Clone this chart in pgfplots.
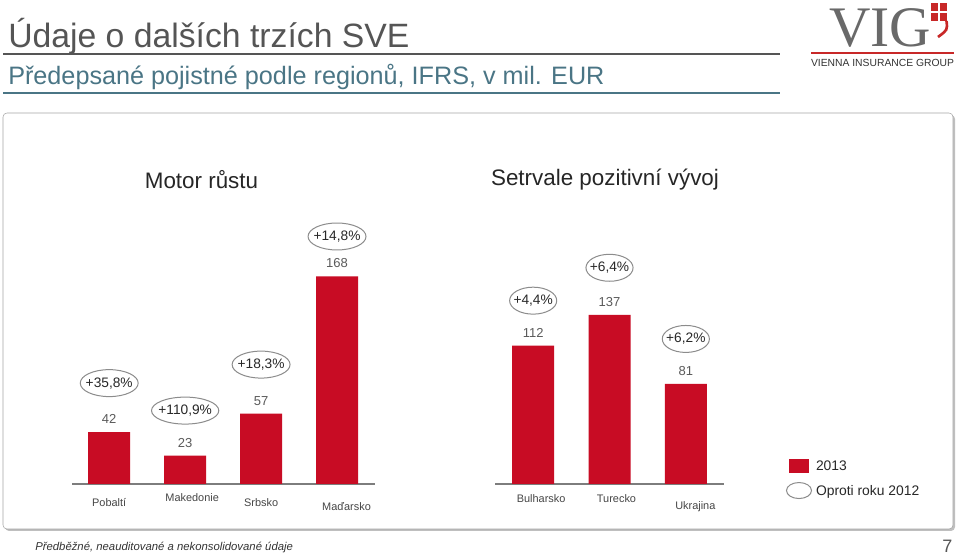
\documentclass[border=0pt]{standalone}
\usepackage{pgfplots}
\pgfplotsset{compat=1.18}
\usepackage{pgfplotstable}
\usepackage{fontspec}
\setmainfont{Liberation Sans}
\newfontfamily\vigfont{Liberation Serif}
\usetikzlibrary{shapes.geometric}

\definecolor{barred}{RGB}{200,12,36}
\definecolor{titlegray}{RGB}{85,85,85}
\definecolor{subblue}{RGB}{74,117,133}
\definecolor{boxgray}{RGB}{165,165,165}
\definecolor{axisgray}{RGB}{125,125,125}
\definecolor{ovalgray}{RGB}{140,140,140}
\definecolor{valgray}{RGB}{90,90,90}
\definecolor{pcttext}{RGB}{40,40,40}
\definecolor{labgray}{RGB}{70,70,70}
\definecolor{viggray}{RGB}{105,105,105}
\definecolor{vigred}{RGB}{200,40,40}

\newcommand{\fs}[1]{\fontsize{#1}{#1}\selectfont}
% tick label: shift right by #1, down by #2
\newcommand{\lab}[3]{\raisebox{-#2}{\hspace*{#1}#3}}

% x, value 2013 (mil. EUR), offset of the oval above the bar (pt), change vs 2012
\pgfplotstableread{
x v dy pct
0 42 36.75 {+35,8\%}
1 23 33.75 {+110,9\%}
2 57 36.75 {+18,3\%}
3 168 30 {+14,8\%}
}\leftdata
\pgfplotstableread{
x v dy pct
0 112 33.75 {+4,4\%}
1 137 35.25 {+6,4\%}
2 81 33.75 {+6,2\%}
}\rightdata

\pgfplotsset{
  /pgf/number format/assume math mode=true,
  regionaxis/.style={
    anchor=south west, scale only axis, height=195pt,
    ymin=0, ymax=210.5,
    axis x line=bottom, axis y line=none,
    axis line style={-, draw=axisgray, line width=1.1pt},
    major tick length=0pt, ytick=\empty,
    xticklabel style={anchor=base, font=\fs{8.2pt}, text=labgray, inner sep=0pt},
    clip=false,
  },
  valbars/.style={ybar, bar width=31.5pt, fill=barred, draw=none,
    nodes near coords,
    every node near coord/.append style={anchor=center, yshift=9.75pt,
      font=\fs{9.75pt}, text=valgray}},
  pctovals/.style={draw=none, mark=none,
    point meta=explicit symbolic, nodes near coords,
    visualization depends on={\thisrow{dy}\as\ovaldy},
    every node near coord/.append style={anchor=center, yshift=\ovaldy,
      ellipse, draw=ovalgray, line width=0.75pt, inner xsep=-2.25pt, inner ysep=2.65pt,
      text height=7.5pt, text depth=1.5pt, font=\fs{10.3pt}, text=pcttext}},
}

\begin{document}
\begin{tikzpicture}[x=0.75pt, y=0.75pt]
\path[use as bounding box] (0,0) rectangle (959,556);

% header
\node[anchor=base west, inner sep=0, font=\fs{25.3pt}, text=titlegray] at (8,508) {Údaje o dalších trzích SVE};
\draw[titlegray, line width=1.9pt] (3,502) -- (780,502);
\node[anchor=base west, inner sep=0, font=\fs{18.9pt}, text=subblue] at (8,471) {Předepsané pojistné podle regionů, IFRS, v mil. EUR};
\draw[subblue, line width=1.1pt] (3,463) -- (780,463);

% logo
\node[anchor=base west, inner sep=0, font=\vigfont\fs{43pt}, text=viggray] at (829,509) {VIG};
\fill[vigred] (931,553) rectangle (938,545);
\fill[vigred] (940,553) rectangle (947,545);
\fill[vigred] (931,543) rectangle (938,535);
\fill[vigred] (940,543) rectangle (947,535);
\draw[vigred, line width=2pt] (946.5,535) .. controls (947.5,526) .. (938,519);
\draw[vigred, line width=1.6pt] (811,503) -- (954,503);
\node[font=\fs{7.75pt}, text=black!80, inner sep=0] at (882.5,493) {VIENNA INSURANCE GROUP};

% panel
\fill[black!25, rounded corners=3pt] (5,25) rectangle (955,441);
\draw[boxgray, fill=white, rounded corners=3pt] (3,27) rectangle (953,443);

\node[font=\fs{16.8pt}, text=black!85] at (201.5,376) {Motor růstu};
\node[font=\fs{16.8pt}, text=black!85] at (605,376) {Setrvale pozitivní vývoj};

\begin{axis}[regionaxis, at={(54pt,54pt)}, width=227.25pt,
  xmin=-0.49, xmax=3.5, xtick={0,1,2,3},
  xticklabels={\lab{0pt}{17.25pt}{Pobaltí}, \lab{10.5pt}{13.5pt}{Makedonie},
    \lab{0pt}{17.25pt}{Srbsko}, \lab{14.25pt}{20.25pt}{Maďarsko}}]
\addplot[valbars] table[x=x, y=v] {\leftdata};
\addplot[pctovals] table[x=x, y=v, meta=pct] {\leftdata};
\end{axis}

\begin{axis}[regionaxis, at={(371.25pt,54pt)}, width=171.75pt,
  xmin=-0.5, xmax=2.5, xtick={0,1,2},
  xticklabels={\lab{12pt}{14.25pt}{Bulharsko}, \lab{10.5pt}{14.25pt}{Turecko},
    \lab{14.25pt}{19.5pt}{Ukrajina}},
  legend cell align=left,
  legend style={at={(axis description cs:1.2707,0.096)}, anchor=north west,
    draw=none, fill=none, inner sep=0pt, outer sep=0pt, row sep=6.75pt,
    font=\fs{10.4pt}, text=pcttext, nodes={inner sep=1pt, text depth=0pt},
    /tikz/column 1/.style={column sep=2pt}}]
\addplot[valbars, legend image code/.code={\fill[barred] (1.5pt,-5.25pt) rectangle (16.5pt,5.25pt);}]
  table[x=x, y=v] {\rightdata};
\addlegendentry{2013}
\addplot[pctovals, legend image code/.code={\draw[ovalgray, line width=0.75pt] (9.375pt,0pt) ellipse [x radius=9.375pt, y radius=6pt];}]
  table[x=x, y=v, meta=pct] {\rightdata};
\addlegendentry{Oproti roku 2012}
\end{axis}

% footer
\node[anchor=base west, inner sep=0, font=\itshape\fs{8.5pt}, text=black!80] at (35,5) {Předběžné, neauditované a nekonsolidované údaje};
\node[anchor=base west, inner sep=0, font=\fs{13.5pt}, text=titlegray] at (942,3) {7};
\end{tikzpicture}
\end{document}
